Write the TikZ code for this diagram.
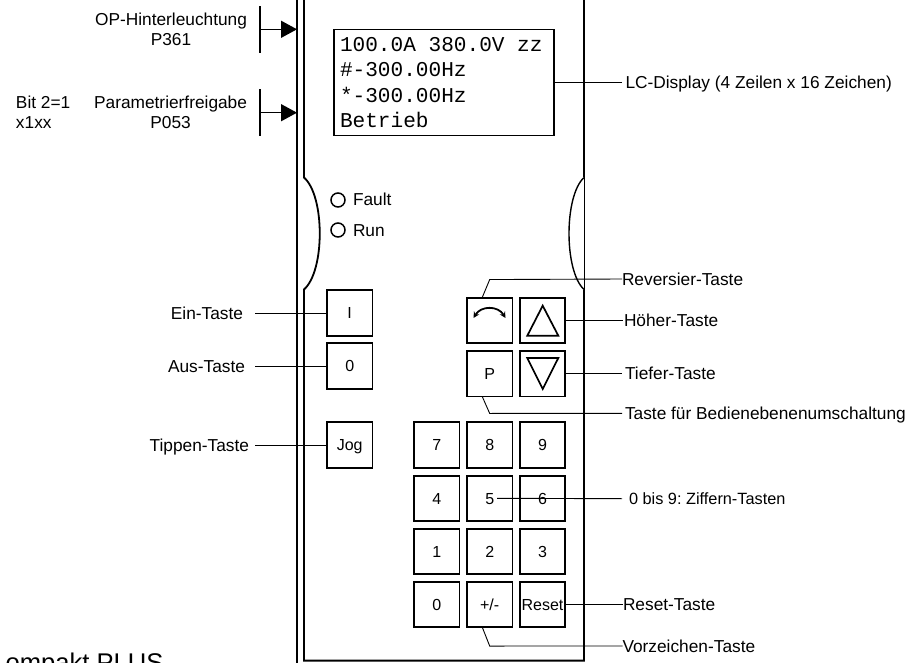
\documentclass[tikz,border=0pt]{standalone}
\usepackage{fontspec}
\setmainfont{Liberation Sans}
\newfontfamily\lcdfont{Liberation Mono}
\frenchspacing
\usetikzlibrary{arrows.meta, positioning}
\tikzset{
  every picture/.style={line width=1.2pt},
  wall/.style={line width=1.8pt},
  key/.style={draw, rectangle, line width=1.9pt, minimum size=45.5pt, inner sep=0pt, outer sep=0pt, text height=11.5pt, text depth=0pt, font=\fontsize{16}{16}\selectfont},
  led/.style={draw, circle, line width=1.5pt, minimum size=14pt, inner sep=0pt, outer sep=0pt},
  lab/.style={inner sep=0pt, outer sep=0pt, text height=12.2pt, text depth=0pt, font=\fontsize{17.3}{20}\selectfont},
  lablines/.style={inner ysep=0pt, outer sep=0pt, align=center, font=\fontsize{17.3}{20}\selectfont},
  lead/.style={line width=.9pt},
  setter/.style={{Bar[width=46.5pt, line width=1.7pt]}-{Triangle[length=16pt, width=17pt]}, line width=1.5pt},
}
\begin{document}
\begin{tikzpicture}[x=1pt, y=-1pt]
  \useasboundingbox (0,0) rectangle (918,663);
  % housing
  \draw[wall] (297,0) -- (297,663);
  \draw[wall] (304,0) -- (304,177.5) .. controls (325,196) and (325,271) .. (304,289.5) -- (304,660.6) -- (584,660.6) -- (584,289.5);
  \draw[wall] (584,0) -- (584,177.5);
  \draw[line width=1.4pt] (584,177.5) .. controls (564,196) and (564,271) .. (584,289.5);
  \draw[line width=1pt] (584,177.5) -- (584,289.5);
  % display
  \node[draw, rectangle, line width=1.9pt, minimum width=220pt, minimum height=106pt, inner sep=6pt, outer sep=0pt,
    text width=208pt, align=left, font=\lcdfont\fontsize{21.1}{25.5}\selectfont] (lcd) at (444,82.5)
    {100.0A\hspace{.6em}380.0V\hspace{.6em}zz\\\#-300.00Hz\\{*}-300.00Hz\\Betrieb};
  \node[lab, anchor=west, inner xsep=3.5pt] (lcdlab) at (622,82) {LC-Display (4 Zeilen x 16 Zeichen)};
  \draw[lead] (lcd.east |- lcdlab.west) -- (lcdlab.west);
  % setters on the left
  \node[lablines, anchor=east, inner xsep=12pt] (op) at (259,29.3) {OP-Hinterleuchtung\\P361};
  \node[lablines, anchor=east, inner xsep=12pt] (par) at (259,112.7) {Parametrierfreigabe\\P053};
  \node[lablines, anchor=west, align=left, inner xsep=0pt] (bit) at (16,112.7) {Bit 2=1\\x1xx};
  \coordinate (opend) at (297,29.3);
  \coordinate (parend) at (297,112.7);
  \draw[setter] (op.east) -- (opend);
  \draw[setter] (par.east) -- (parend);
  % leds
  \node[led] (ledf) at (338,200) {};
  \node[led] (ledr) at (338,230) {};
  \node[lab, right=8pt of ledf, yshift=.5pt] (ledflab) {Fault};
  \node[lab, right=8pt of ledr] (ledrlab) {Run};
  % keys
  \foreach \n/\x/\y/\t in {ein/349.7/313/I, aus/349.7/366/0, jog/349.7/445/Jog,
      rev/489.7/320.3/, up/542.5/320.3/, p/489.7/373.7/P, down/542.5/373.7/,
      k7/436.7/445/7, k8/489.7/445/8, k9/542.5/445/9,
      k4/436.7/498.3/4, k5/489.7/498.3/5, k6/542.5/498.3/6,
      k1/436.7/551.3/1, k2/489.7/551.3/2, k3/542.5/551.3/3,
      k0/436.7/604.3/0, sign/489.7/604.3/{+/-}, reset/542.5/604.3/Reset}
    \node[key] (\n) at (\x,\y) {\t};
  % key symbols
  \draw[line width=1.7pt, line join=miter] (542.7,305.7) -- (558.3,335.7) -- (527.3,335.7) -- cycle;
  \draw[line width=1.7pt, line join=miter] (542.7,389) -- (558.3,358) -- (527.3,358) -- cycle;
  \draw[{Stealth[length=6pt, width=6pt]}-{Stealth[length=6pt, width=6pt]}, line width=1.8pt] (473.5,318) .. controls (481,305.5) and (498,305.5) .. (505.5,318);
  % left labels
  \node[lab, anchor=east, inner xsep=12pt] (einlab) at (255,313) {Ein-Taste};
  \node[lab, anchor=east, inner xsep=10pt] (auslab) at (255,366) {Aus-Taste};
  \node[lab, anchor=east, inner xsep=6pt] (joglab) at (255,445) {Tippen-Taste};
  \draw[lead] (einlab.east) -- (ein.west);
  \draw[lead] (auslab.east) -- (aus.west);
  \draw[lead] (joglab.east) -- (jog.west);
  % right labels
  \node[lab, anchor=west] (revlab) at (622,279) {Reversier-Taste};
  \node[lab, anchor=west, inner xsep=1pt] (uplab) at (623,320.3) {H\"oher-Taste};
  \node[lab, anchor=west, inner xsep=3pt] (downlab) at (622,373.7) {Tiefer-Taste};
  \node[lab, anchor=west, inner xsep=3pt] (plab) at (622,413.3) {Taste f\"ur Bedienebenenumschaltung};
  \node[lab, anchor=west, inner xsep=7pt, font=\fontsize{16.3}{16}\selectfont] (numlab) at (622,498.7) {0 bis 9: Ziffern-Tasten};
  \node[lab, anchor=west] (resetlab) at (623,604.3) {Reset-Taste};
  \node[lab, anchor=west] (signlab) at (622.5,646) {Vorzeichen-Taste};
  \draw[lead] ([xshift=-7.5pt]rev.north) -- ++(7.5,-18) -- (revlab.west);
  \draw[lead] (up.east) -- (uplab.west);
  \draw[lead] (down.east) -- (downlab.west);
  \draw[lead] ([xshift=-7.5pt]p.south) -- ++(7.5,17) -- (plab.west);
  \draw[lead] ([xshift=7.5pt]k5.center) -- (numlab.west);
  \draw[lead] (reset.east) -- (resetlab.west);
  \draw[lead] ([xshift=-7.5pt]sign.south) -- ++(7.5,19) -- (signlab.west);
  % cut off at the page edge
  \node[anchor=base east, inner sep=0pt, outer sep=0pt, font=\fontsize{25.6}{25.6}\selectfont] (title) at (163.5,671) {ompakt PLUS};
\end{tikzpicture}
\end{document}
